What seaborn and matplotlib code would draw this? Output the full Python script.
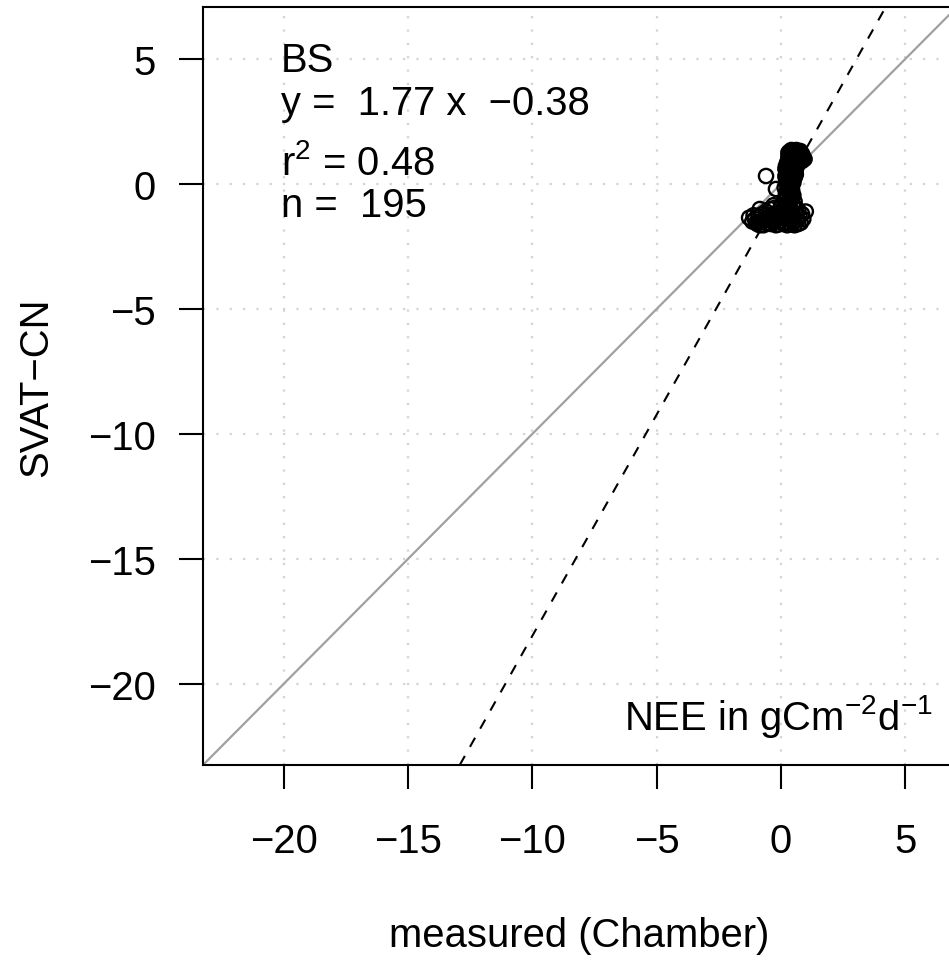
import numpy as np
import pandas as pd
import matplotlib
matplotlib.use('Agg')
import matplotlib.pyplot as plt
import seaborn as sns

# measured (Chamber) vs SVAT-CN, NEE in gCm-2d-1
measured = [
    0.35, 0.45, 0.55, 0.65, 0.75, 0.85, 0.40, 0.50, 0.60, 0.70, 0.80, 0.90, 0.30, 0.45, 0.55, 0.65, 0.75,
    0.38, 0.50, 0.60, 0.85, 0.25, 0.40, 0.55, 0.70,
    0.30, 0.42, 0.62, 0.78, 0.88, 0.95, 0.68, 0.52, 0.35, 0.28, 0.62, 0.45, 0.30,
    0.20, 0.35, 0.50, 0.62, 0.18, 0.30, 0.45, 0.58, 0.22, 0.35, 0.48, 0.60, 0.18, 0.30, 0.42, 0.55,
    0.55, 0.40, 0.25, 0.52, 0.28, 0.45, 0.35, 0.20, 0.45, 0.38, 0.22, 0.42, 0.28,
    0.25, 0.40, 0.50, 0.30,
    -0.60, -0.20,
    0.15, 0.30, 0.45, 0.20, 0.35, 0.50, 0.25, 0.40, 0.12, 0.55,
    0.38, 0.25, 0.45, 0.30, 0.48, 0.20,
    -1.28, -1.15, -1.05, -0.95, -0.90, -0.80, -0.75, -0.70, -0.65, -0.60, -0.55, -0.50, -0.45, -0.40,
    -0.35, -0.30, -0.25, -0.20, -0.15, -0.10, -0.05, 0.00, 0.05, 0.10, 0.15, 0.20, 0.25, 0.30, 0.35,
    0.40, 0.45, 0.50, 0.55, 0.60, 0.65, 0.70, 0.75, 0.80, 1.00, 0.90, -0.85, -0.30,
    -1.10, -1.00, -0.85, -0.60, -0.45, -0.25, -0.05, 0.10, 0.25, 0.35, 0.50, 0.60, 0.70, 0.85,
    0.15, -0.10, 0.42, -0.70,
]
modelled = [
    1.30, 1.32, 1.28, 1.30, 1.25, 1.20, 1.20, 1.18, 1.15, 1.12, 1.08, 1.05, 1.10, 1.05, 1.00, 0.98, 0.95,
    0.95, 0.90, 0.88, 0.92, 0.85, 0.80, 0.78, 0.82,
    1.25, 1.36, 1.36, 1.32, 1.12, 1.00, 1.22, 1.10, 1.00, 0.92, 0.92, 0.75, 0.65,
    0.72, 0.70, 0.68, 0.65, 0.60, 0.58, 0.55, 0.52, 0.45, 0.42, 0.40, 0.38, 0.32, 0.30, 0.28, 0.25,
    0.62, 0.50, 0.52, 0.45, 0.38, 0.32, 0.20, 0.22, 0.18, 0.05, 0.05, -0.08, -0.10,
    0.15, 0.12, 0.05, 0.00,
    0.32, -0.20,
    -0.15, -0.20, -0.25, -0.35, -0.40, -0.45, -0.55, -0.60, -0.65, -0.70,
    -0.30, -0.45, -0.52, -0.70, -0.80, -0.80,
    -1.35, -1.50, -1.40, -1.60, -1.30, -1.50, -1.20, -1.65, -1.40, -1.10, -1.55, -1.30, -1.00, -1.60,
    -1.45, -1.20, -0.95, -1.65, -1.35, -1.10, -1.50, -0.90, -1.25, -1.60, -1.00, -1.40, -0.85, -1.20, -1.55,
    -1.00, -1.35, -0.90, -1.65, -1.20, -1.45, -1.05, -1.30, -1.55, -1.10, -1.40, -1.00, -0.85,
    -1.25, -1.55, -1.65, -1.25, -1.45, -1.50, -1.20, -1.30, -1.65, -1.05, -1.50, -0.95, -1.60, -1.20,
    -0.88, -1.62, -1.62, -1.45,
]
slope = 1.77
intercept = -0.38
r2 = 0.48
n_obs = 195
site = "BS"
ticks = [-20, -15, -10, -5, 0, 5]
lims = (-23.24, 7.08)

df = pd.DataFrame({'measured': measured, 'modelled': modelled})

sns.set_theme(style='white')
plt.rcParams['font.family'] = ['Liberation Sans', 'DejaVu Sans']
plt.rcParams['axes.unicode_minus'] = True
fs = 28.8

W, H = 949, 962
fig = plt.figure(figsize=(W / 100, H / 100), dpi=100)
ax = fig.add_axes([203 / W, 196 / H, 754 / W, 758 / H])

ax.set_xlim(lims)
ax.set_ylim(lims)
ax.set_xticks(ticks)
ax.set_yticks(ticks)
ax.grid(True, color='lightgray', linestyle=(0, (1, 5)), linewidth=1.6)
ax.set_axisbelow(True)

# 1:1 Linie und Regressionsgerade
ax.axline((0, 0), slope=1, color='#a0a0a0', linewidth=1.6, zorder=2)
ax.axline((0, intercept), slope=slope, color='black', linewidth=1.5,
          linestyle=(0, (5, 5)), zorder=2)

sns.scatterplot(data=df, x='measured', y='modelled', ax=ax, marker='o',
                facecolor='none', edgecolor='black', s=105, linewidth=1.7, zorder=3)

for s in ['left', 'bottom', 'top']:
    ax.spines[s].set_visible(True)
    ax.spines[s].set_color('black')
    ax.spines[s].set_linewidth(1.5)
ax.spines['right'].set_visible(False)

ax.tick_params(axis='both', direction='out', length=17, width=1.5, color='black',
               labelsize=fs, labelcolor='black', bottom=True, left=True)
ax.tick_params(axis='x', pad=24)
ax.tick_params(axis='y', pad=17)

ax.set_xlabel('')
ax.set_ylabel('')
fig.text(579 / W, (H - 947) / H, 'measured (Chamber)', fontsize=fs,
         ha='center', va='baseline', color='black')
fig.text(47 / W, (H - 387) / H, 'SVAT\u2212CN', fontsize=fs, rotation=90,
         rotation_mode='anchor', ha='center', va='baseline', color='black')

kw = dict(fontsize=fs, ha='left', va='baseline', color='black')
ax.text(-20.12, 4.52, site, **kw)
ax.text(-20.12, 2.80, f'y =  {slope:.2f} x  \u2212{abs(intercept):.2f}', **kw)
ax.text(-20.12, 0.40, r'r$\mathregular{^2}$' + f' = {r2:.2f}', **kw)
ax.text(-20.12, -1.28, f'n =  {n_obs}', **kw)
ax.text(6.12, -21.8, r'NEE in gCm$\mathregular{^{-2}}$d$\mathregular{^{-1}}$',
        fontsize=fs, ha='right', va='baseline', color='black')

fig.savefig('out.png', dpi=100)
